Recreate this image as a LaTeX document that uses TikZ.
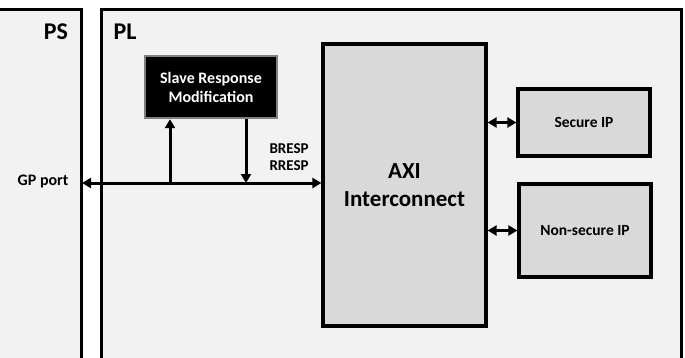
\documentclass[tikz,border=0pt]{standalone}
\usepackage{fontspec}
\setmainfont{Carlito}
\usetikzlibrary{arrows.meta}
\begin{document}
\begin{tikzpicture}[x=1pt,y=-1pt,
  region/.style={draw=black,line width=3pt,fill=black!5},
  block/.style={draw=black,line width=3.2pt,fill=black!15,inner sep=0pt,
    font=\bfseries\fontsize{15.5}{18}\selectfont,align=center},
  bus/.style={line width=3pt,-{Triangle[length=9pt,width=10pt]}},
  busboth/.style={line width=3pt,{Triangle[length=9pt,width=10pt]}-{Triangle[length=9pt,width=10pt]}}]
\tikzstyle{every node}+=[text=black]
\useasboundingbox (0,0) rectangle (685,357);
\fill [white] (0,0) rectangle (685,357);
% PS and PL regions
\draw [region] (-10,400) -- (-10,9) -- (81,9) -- (81,400);
\draw [region] (101,400) -- (101,9) -- (681,9) -- (681,400);
\node (pslabel) at (56,32) {\bfseries\fontsize{24}{28}\selectfont PS};
\node (pllabel) at (125,32) {\bfseries\fontsize{24}{28}\selectfont PL};
% blocks
\node [block,minimum width=163pt,minimum height=282pt,font=\bfseries\fontsize{23}{28}\selectfont] (axi) at (404.5,185) {AXI\\Interconnect};
\node [block,minimum width=132pt,minimum height=67pt] (sec) at (584,122.5) {Secure IP};
\node [block,minimum width=132pt,minimum height=93pt] (nsec) at (585,230.5) {Non-secure IP};
\node [block,draw=black!50,line width=2.4pt,fill=black,text=white,minimum width=132pt,minimum height=62pt,font=\bfseries\fontsize{16}{19}\selectfont] (srm) at (211,87) {Slave Response\\Modification};
% port and bus
\coordinate (gp) at (82,183);
\node [anchor=east,font=\bfseries\fontsize{16}{18}\selectfont] (gplabel) at (72,182) {GP port};
\draw [busboth] (gp) -- (axi.west |- gp);
\coordinate (tap) at (170,183);
\coordinate (drop) at (246,183);
\draw [bus] (tap) -- (srm.south -| tap);
\draw [bus] (srm.south -| drop) -- (drop);
\node [anchor=west,align=left,font=\bfseries\fontsize{15}{17}\selectfont] (resp) at (266,157) {BRESP\\RRESP};
% IP links
\draw [busboth] (axi.east |- sec) -- (sec.west);
\draw [busboth] (axi.east |- nsec) -- (nsec.west);
\end{tikzpicture}
\end{document}
